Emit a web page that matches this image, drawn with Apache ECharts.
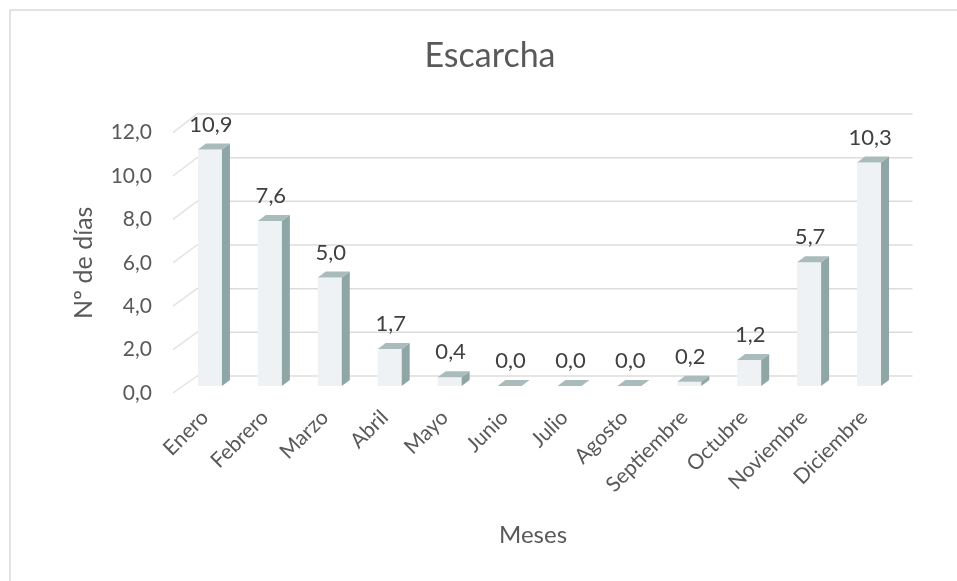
<!DOCTYPE html>
<html>
<head>
<meta charset="utf-8">
<script src="https://cdn.jsdelivr.net/npm/echarts@6/dist/echarts.min.js"></script>
<style>
  html, body { margin: 0; padding: 0; background: #ffffff; }
  #chart { width: 957px; height: 581px; }
</style>
</head>
<body>
<div id="chart"></div>
<script>
// Monthly frost days
const categories = ['Enero', 'Febrero', 'Marzo', 'Abril', 'Mayo', 'Junio', 'Julio', 'Agosto', 'Septiembre', 'Octubre', 'Noviembre', 'Diciembre'];
const values = [10.9, 7.6, 5.0, 1.7, 0.4, 0.0, 0.0, 0.0, 0.2, 1.2, 5.7, 10.3];
const yTicks = [0, 2, 4, 6, 8, 10, 12];

const FONT = 'Lato, "Open Sans", sans-serif';
const fmt = v => v.toFixed(1).replace('.', ',');

// depth of the 3D box (front plane -> back wall)
const WALL_DX = 24, WALL_DY = -17;
// bar geometry relative to the category centre on the front plane
const BAR_HALF = 12, BAR_SHIFT_Y = -7, BAR_DX = 8, BAR_DY = -6;

function renderWall(params, api) {
  const v = api.value(1);
  const first = api.coord([0, v]);
  const last = api.coord([categories.length - 1, v]);
  const dy = WALL_DY - 0.13 * v;
  const frontLeft = [first[0] - 37, first[1]];
  const backLeft = [frontLeft[0] + WALL_DX, first[1] + dy];
  const backRight = [last[0] + 43.5, first[1] + dy];
  return {
    type: 'group',
    children: [
      { type: 'line', shape: { x1: frontLeft[0], y1: frontLeft[1], x2: backLeft[0], y2: backLeft[1] },
        style: { stroke: '#e3e3e3', lineWidth: 1.5 } },
      { type: 'line', shape: { x1: backLeft[0], y1: backLeft[1], x2: backRight[0], y2: backRight[1] },
        style: { stroke: '#dcdcdc', lineWidth: 1.5 } }
    ]
  };
}

function renderBar(params, api) {
  const i = api.value(0);
  const v = api.value(1);
  const top = api.coord([i, v]);
  const base = api.coord([i, 0]);
  const xl = top[0] - BAR_HALF, xr = top[0] + BAR_HALF;
  const yt = top[1] + BAR_SHIFT_Y, yb = base[1] + BAR_SHIFT_Y;
  const children = [];
  if (yb - yt > 0.5) {
    children.push({ type: 'rect', shape: { x: xl, y: yt, width: xr - xl, height: yb - yt },
      style: { fill: '#eef2f5' } });
    children.push({ type: 'polygon', shape: { points: [[xr, yt], [xr + BAR_DX, yt + BAR_DY], [xr + BAR_DX, yb + BAR_DY], [xr, yb]] },
      style: { fill: '#8ea6a5' } });
  }
  children.push({ type: 'polygon', shape: { points: [[xl, yt], [xl + BAR_DX, yt + BAR_DY], [xr + BAR_DX, yt + BAR_DY], [xr, yt]] },
    style: { fill: '#a9bbba' } });
  children.push({ type: 'text', style: {
    x: top[0] + 1, y: yt - 25, text: fmt(v), fill: '#404040',
    font: '22px ' + FONT, align: 'center', verticalAlign: 'middle' } });
  return { type: 'group', children };
}

const chart = echarts.init(document.getElementById('chart'), null, { renderer: 'canvas' });
chart.setOption({
  backgroundColor: '#ffffff',
  animation: false,
  title: {
    text: 'Escarcha', left: 485, top: 34, textAlign: 'center',
    textStyle: { fontFamily: FONT, fontSize: 34, fontWeight: 'normal', color: '#595959' }
  },
  graphic: [{
    type: 'rect', silent: true, z: -10,
    shape: { x: 10, y: 10, width: 960, height: 580 },
    style: { fill: 'none', stroke: '#d9d9d9', lineWidth: 1.5 }
  }],
  grid: { left: 180, right: 58, top: 132.6, bottom: 188 },
  xAxis: {
    type: 'category', data: categories,
    name: 'Meses', nameLocation: 'middle', nameGap: 130,
    nameTextStyle: { fontFamily: FONT, fontSize: 24, color: '#595959', padding: [0, 13, 0, 0] },
    axisLine: { show: false }, axisTick: { show: false },
    axisLabel: { rotate: 45, margin: 16, interval: 0, padding: [0, 7, 0, 0],
      fontFamily: FONT, fontSize: 21, color: '#595959' }
  },
  yAxis: {
    type: 'value', min: 0, max: 12, interval: 2,
    name: 'Nº de días', nameLocation: 'middle', nameGap: 84,
    nameTextStyle: { fontFamily: FONT, fontSize: 25, color: '#595959' },
    axisLine: { show: false }, axisTick: { show: false }, splitLine: { show: false },
    axisLabel: { margin: 28, formatter: v => fmt(v), fontFamily: FONT, fontSize: 21, color: '#595959' }
  },
  series: [
    { type: 'custom', z: 1, clip: false, silent: true, renderItem: renderWall,
      encode: { x: 0, y: 1 }, data: yTicks.map(v => [0, v]) },
    { type: 'custom', z: 2, clip: false, renderItem: renderBar,
      encode: { x: 0, y: 1 }, data: values.map((v, i) => [i, v]) }
  ]
});
</script>
</body>
</html>
